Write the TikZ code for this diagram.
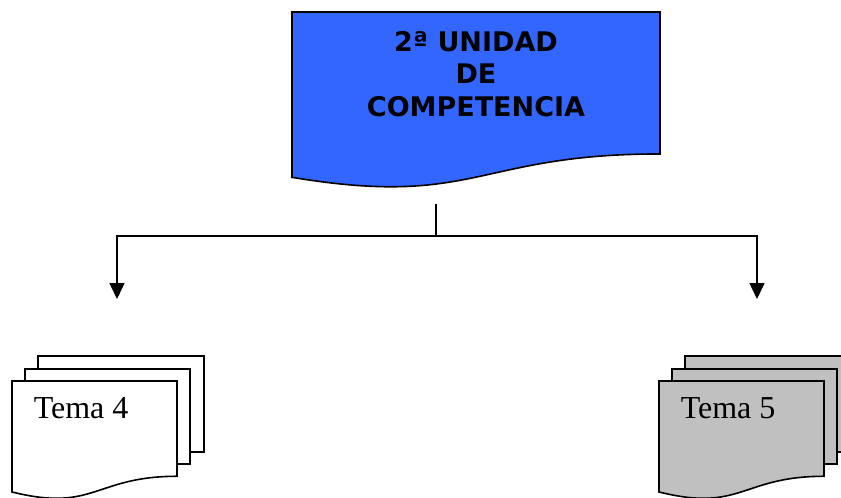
\documentclass[tikz,border=0pt]{standalone}
\usepackage{fontspec}
\setmainfont{Liberation Serif}
\newfontfamily\unitfont{DejaVu Sans}
\usetikzlibrary{arrows.meta}
\definecolor{unitblue}{HTML}{3366FF}
\definecolor{temagray}{HTML}{C0C0C0}
\tikzset{sheet/.style={draw=black, line width=1.6pt, line join=miter}}
% document shape: x, y, width, height, fill
\newcommand{\docsheet}[5]{\draw[sheet, fill=#5] (#1,#2) -- (#1+#3,#2) -- (#1+#3,#2+0.802*#4)
  .. controls (#1+0.5*#3,#2+0.802*#4) and (#1+0.5*#3,#2+1.1075*#4) .. (#1,#2+0.934*#4) -- cycle;}
% three stacked sheets: left x, fill
\newcommand{\temastack}[2]{
  \draw[sheet, fill=#2] (#1+26,356) rectangle (#1+192,452);
  \draw[sheet, fill=#2] (#1+13,369) rectangle (#1+178,464);
  \docsheet{#1}{381}{165}{118.8}{#2}}
\begin{document}
\begin{tikzpicture}[x=1pt, y=-1pt, line width=1.5pt, >={Triangle[width=15pt,length=16pt]}]
\clip (0,0) rectangle (841,498);

\docsheet{292}{12}{368}{177}{unitblue}
\node[font=\unitfont\bfseries\fontsize{27}{32.5}\selectfont, align=center, inner sep=0pt] (unidad) at (476,74) {2ª UNIDAD\\DE\\COMPETENCIA};

\temastack{12}{white}
\temastack{659}{temagray}
\node[font=\fontsize{32}{38}\selectfont, anchor=base west, inner sep=0pt] (tema4) at (33,418) {Tema 4};
\node[font=\fontsize{32}{38}\selectfont, anchor=base west, inner sep=0pt] (tema5) at (680,418) {Tema 5};

\coordinate (stem) at (436,204);
\coordinate (split) at (436,236);
\coordinate (tip4) at (117,299);
\coordinate (tip5) at (757,299);
\draw (stem) -- (split);
\draw[->] (split) -| (tip4);
\draw[->] (split) -| (tip5);
\end{tikzpicture}
\end{document}
